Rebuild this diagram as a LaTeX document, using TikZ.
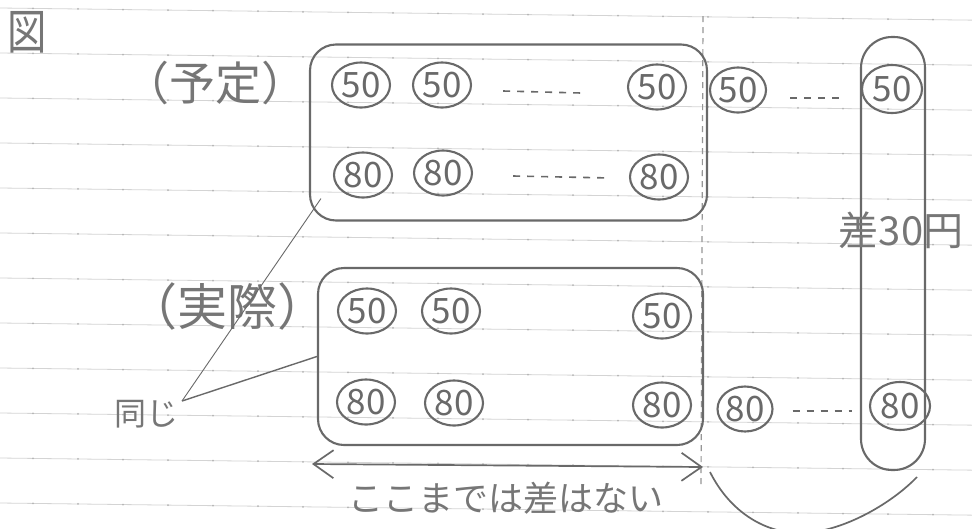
\documentclass[tikz,border=0pt]{standalone}
\usepackage{fontspec}
\newfontfamily\jp{Noto Sans CJK JP}
\usetikzlibrary{arrows.meta,calc,shapes.geometric}
\definecolor{pencil}{RGB}{105,105,105}
\definecolor{penciltext}{RGB}{118,118,118}
\definecolor{ruleline}{RGB}{212,212,212}
\definecolor{ruledot}{RGB}{180,180,180}
\definecolor{faintdash}{RGB}{150,150,150}
\tikzset{handbarb/.tip={Straight Barb[length=20pt,width=28pt]}}
\begin{document}
\begin{tikzpicture}[x=1pt,y=-1pt,
  stroke/.style={draw=pencil,line width=2.1pt},
  coin/.style={ellipse,stroke,minimum width=58pt,minimum height=45pt,inner sep=0pt,text=pencil,font=\jp\fontsize{35}{35}\selectfont},
  bigcoin/.style={coin,minimum width=60pt,minimum height=48pt},
  groupbox/.style={rectangle,stroke,rounded corners=26pt,inner sep=0pt},
  dotline/.style={draw=pencil,line width=1.6pt,dash pattern=on 7pt off 7pt},
  vdash/.style={draw=faintdash,line width=1.2pt,dash pattern=on 6pt off 5pt},
  handtext/.style={text=penciltext,inner sep=0pt},
  ]
\useasboundingbox (0,0) rectangle (972,528);
\fill[white] (0,0) rectangle (972,528);
% ruled paper
\foreach \k in {0,...,11} {
  \draw[ruleline,line width=0.8pt] (0,{8+45*\k}) -- (972,{8+45*\k+12.15});
  \foreach \j in {0,...,21} {
    \fill[ruledot] ({33+45*\j},{8+45*\k+0.0125*(33+45*\j)}) circle (1pt);
  }
}
% vertical dashed divider
\coordinate (vtop) at (703,16);
\coordinate (vbot) at (701,488);
\draw[vdash] (vtop) -- (vbot);

% group boxes
\node[groupbox,minimum width=397pt,minimum height=176pt] (plan) at (508.5,132.5) {};
\node[groupbox,minimum width=385pt,minimum height=177pt] (actual) at (510.5,356.5) {};
\node[groupbox,rounded corners=31pt,minimum width=64pt,minimum height=433pt] (diff) at (893,253.5) {};

% labels
\node[handtext,font=\jp\fontsize{48}{48}\selectfont] (zu) at (27,32) {\scalebox{0.82}[1]{図}};
\node[handtext,font=\jp\fontsize{46}{46}\selectfont] (yotei) at (215,83) {（予定）};
\node[handtext,font=\jp\fontsize{50}{50}\selectfont] (jissai) at (227,306) {（実際）};
\node[handtext,font=\jp\fontsize{32}{32}\selectfont] (onaji) at (146,414) {同じ};
\node[handtext,font=\jp\fontsize{35}{35}\selectfont] (nodiff) at (506,498) {ここまでは差はない};
\node[handtext,font=\jp\fontsize{40}{40}\selectfont] (sa) at (901,230) {差30円};

% planned coins
\node[coin] (p50a) at (361,85) {50};
\node[coin] (p50b) at (442,85) {50};
\node[coin] (p50c) at (657,87) {50};
\node[coin] (p80a) at (363,175) {80};
\node[coin] (p80b) at (443,173) {80};
\node[coin] (p80c) at (659,177) {80};
% actual coins
\node[coin] (a50a) at (367,311) {50};
\node[coin] (a50b) at (451,311) {50};
\node[coin] (a50c) at (662,316) {50};
\node[coin] (a80a) at (366,402) {80};
\node[coin] (a80b) at (454,403) {80};
\node[coin] (a80c) at (662,405) {80};
% extra coins on the right
\node[coin,minimum width=56pt] (r50a) at (738,90) {50};
\node[bigcoin] (r50b) at (892,89) {50};
\node[coin,minimum width=55pt] (r80a) at (745,409) {80};
\node[bigcoin] (r80b) at (900,406) {80};

% dotted continuations
\draw[dotline] ([xshift=31pt,yshift=-6pt]p50b.east) -- ([xshift=-46pt,yshift=-6pt]p50c.west);
\draw[dotline] ([xshift=40pt,yshift=-3pt]p80b.east) -- ([xshift=-18pt,yshift=-1pt]p80c.west);
\draw[dotline] ([xshift=23pt,yshift=-8pt]r50a.east) -- ([xshift=-20pt,yshift=-9pt]r50b.west);
\draw[dotline] ([xshift=19pt,yshift=-2pt]r80a.east) -- ([xshift=-17pt,yshift=-5pt]r80b.west);

% "same" pointers
\coordinate (dj) at (182,401);
\draw[pencil,line width=0.9pt] (dj) -- ($(plan.south west)+(12,-23)$);
\draw[pencil,line width=1.4pt] (dj) -- (actual.west);

% no-difference span arrow
\coordinate (aL) at (312,464);
\coordinate (aR) at (703,467);
\draw[draw=pencil,line width=1.7pt,handbarb-handbarb] (aL) -- (aR);

% bottom brace-like curve
\coordinate (uA) at (710,472);
\coordinate (uB) at (917,477);
\draw[pencil,line width=1.7pt] (uA) .. controls (730,512) and (765,533) .. (800,533) .. controls (840,533) and (890,505) .. (uB);
\end{tikzpicture}
\end{document}
